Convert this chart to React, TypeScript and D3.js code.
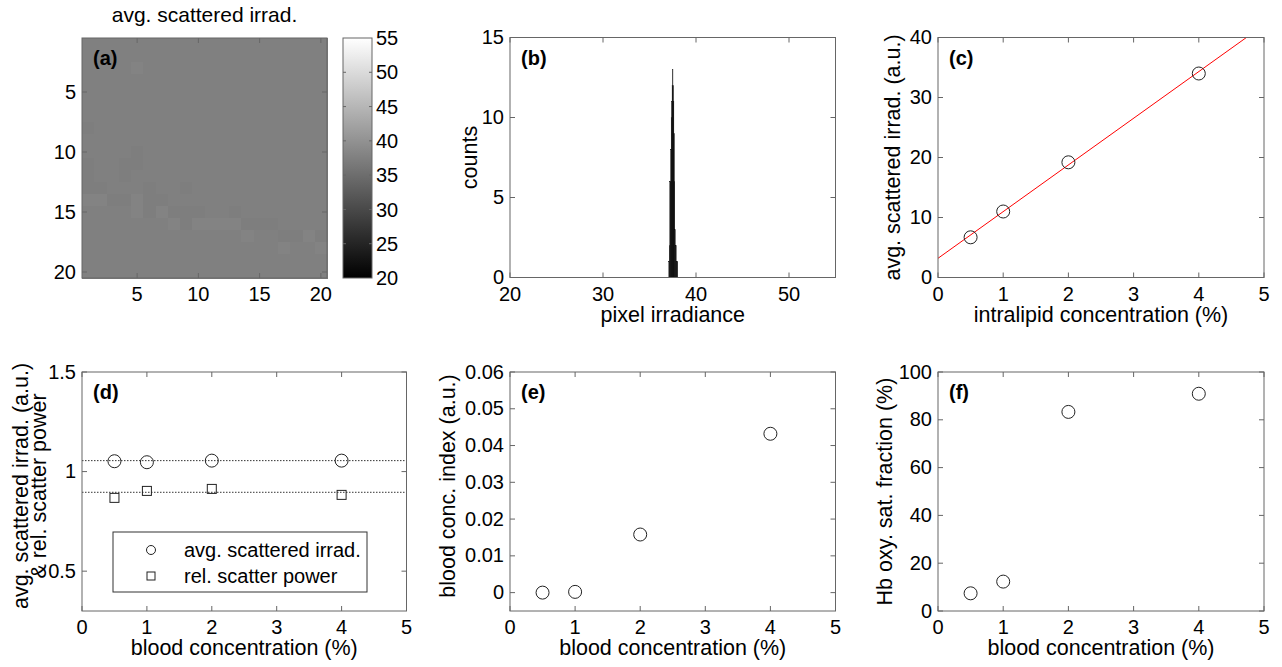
import React from 'react';
import * as d3 from 'd3';

// ---------- DATA ----------
// (a) 20x20 map of average scattered irradiance; '.' base, 'd' darker, 'l' lighter
const heatRows: string[] = [
  '....................',
  '....................',
  '....l...............',
  '....................',
  '....................',
  '....................',
  '....................',
  'd...................',
  '....................',
  '....d...............',
  'd..dd...............',
  'd..d................',
  'dd...d..d...........',
  'llddldd.............',
  '....ldlddd..d.......',
  '.......ldllllddd....',
  '.............l..ddld',
  '................l..l',
  '....................',
  '....................',
];
const heatLevels: Record<string, number> = { '.': 37.6, d: 37.25, l: 38.0 };
const colorbarTicks = [20, 25, 30, 35, 40, 45, 50, 55];
const heatTicks = [5, 10, 15, 20];

// (b) histogram of pixel irradiance
const histCenters = [37.1, 37.15, 37.2, 37.25, 37.3, 37.35, 37.4, 37.45, 37.5, 37.55, 37.6, 37.65, 37.7, 37.75, 37.8, 37.85, 37.9, 37.95, 38.0];
const histCounts = [1, 2, 6, 6, 8, 10, 11, 12, 13, 12, 11, 9, 6, 3, 2, 2, 1, 1, 1];
const histXTicks = [20, 30, 40, 50];
const histYTicks = [0, 5, 10, 15];

// (c) intralipid
const intralipidConc = [0.5, 1, 2, 4];
const intralipidIrrad = [6.7, 11.0, 19.2, 34.0];
const fitIntercept = 3.2;
const fitSlope = 7.78;
const cYTicks = [0, 10, 20, 30, 40];

// (d)(e)(f) blood
const bloodConc = [0.5, 1, 2, 4];
const dIrrad = [1.052, 1.047, 1.055, 1.055];
const dScatterPower = [0.868, 0.903, 0.913, 0.883];
const dIrradMean = 1.055;
const dPowerMean = 0.896;
const dYTicks = [0.5, 1, 1.5];
const eIndex = [0.0, 0.0002, 0.0158, 0.0432];
const eYTicks = [0, 0.01, 0.02, 0.03, 0.04, 0.05, 0.06];
const fSat = [7.4, 12.3, 83.3, 90.9];
const fYTicks = [0, 20, 40, 60, 80, 100];
const concTicks = [0, 1, 2, 3, 4, 5];

// ---------- LAYOUT ----------
const FONT = '"Liberation Sans", Arial, sans-serif';
const FS = 20;
const LFS = 21.5;
const TICK = 5;
const AXC = '#666';

type Box = { l: number; r: number; t: number; b: number };
const boxA: Box = { l: 82, r: 327, t: 38, b: 278 };
const boxB: Box = { l: 510, r: 835.5, t: 37.5, b: 277.5 };
const boxC: Box = { l: 938, r: 1264, t: 37.5, b: 277.5 };
const boxD: Box = { l: 82, r: 406.5, t: 372, b: 611 };
const boxE: Box = { l: 510, r: 835.5, t: 372, b: 611 };
const boxF: Box = { l: 938, r: 1264, t: 372, b: 611 };

function Frame(props: {
  box: Box;
  x: (v: number) => number;
  y: (v: number) => number;
  xTicks: number[];
  yTicks: number[];
  xFmt?: (v: number) => string;
  yFmt?: (v: number) => string;
  xLabel?: string;
  yLabel?: string[];
  yLabelX?: number;
  yLabelCY?: number;
  panel?: string;
}) {
  const { box, x, y, xTicks, yTicks } = props;
  const xf = props.xFmt || ((v: number) => String(v));
  const yf = props.yFmt || ((v: number) => String(v));
  const cy = props.yLabelCY !== undefined ? props.yLabelCY : (box.t + box.b) / 2;
  const cx = (box.l + box.r) / 2;
  return (
    <g fontFamily={FONT} fontSize={FS} fill="#000">
      <rect x={box.l} y={box.t} width={box.r - box.l} height={box.b - box.t} fill="none" stroke={AXC} strokeWidth={1} />
      {xTicks.map((v, i) => (
        <g key={'xt' + i}>
          <line x1={x(v)} x2={x(v)} y1={box.b} y2={box.b - TICK} stroke={AXC} />
          <line x1={x(v)} x2={x(v)} y1={box.t} y2={box.t + TICK} stroke={AXC} />
          <text x={x(v)} y={box.b + 23} textAnchor="middle">{xf(v)}</text>
        </g>
      ))}
      {yTicks.map((v, i) => (
        <g key={'yt' + i}>
          <line x1={box.l} x2={box.l + TICK} y1={y(v)} y2={y(v)} stroke={AXC} />
          <line x1={box.r} x2={box.r - TICK} y1={y(v)} y2={y(v)} stroke={AXC} />
          <text x={box.l - 6} y={y(v)} dy="0.33em" textAnchor="end">{yf(v)}</text>
        </g>
      ))}
      {props.xLabel && (
        <text x={cx} y={box.b + 44} textAnchor="middle" fontSize={LFS}>{props.xLabel}</text>
      )}
      {props.yLabel && props.yLabel.map((s, i) => (
        <text key={'yl' + i} fontSize={LFS}
          transform={`translate(${(props.yLabelX || 0) + i * 18},${cy}) rotate(-90)`}
          textAnchor="middle">{s}</text>
      ))}
      {props.panel && (
        <text x={box.l + 11} y={box.t + 27} fontWeight="bold">{props.panel}</text>
      )}
    </g>
  );
}

export default function App() {
  // (a)
  const xa = d3.scaleLinear().domain([0.5, 20.5]).range([boxA.l, boxA.r]);
  const ya = d3.scaleLinear().domain([0.5, 20.5]).range([boxA.t, boxA.b]);
  const gray = d3.scaleLinear<string>().domain([20, 55]).range(['#000000', '#ffffff']).clamp(true);
  const cbar = { l: 343, r: 372, t: 38, b: 278 };
  const ycb = d3.scaleLinear().domain([20, 55]).range([cbar.b, cbar.t]);

  // (b)
  const xb = d3.scaleLinear().domain([20, 55]).range([boxB.l, boxB.r]);
  const yb = d3.scaleLinear().domain([0, 15]).range([boxB.b, boxB.t]);
  const binW = histCenters[1] - histCenters[0];

  // (c)
  const xc = d3.scaleLinear().domain([0, 5]).range([boxC.l, boxC.r]);
  const yc = d3.scaleLinear().domain([0, 40]).range([boxC.b, boxC.t]);
  const fitLine = d3.line<number>().x((v) => xc(v)).y((v) => yc(fitIntercept + fitSlope * v));

  // (d)
  const xd = d3.scaleLinear().domain([0, 5]).range([boxD.l, boxD.r]);
  const yd = d3.scaleLinear().domain([0.3, 1.5]).range([boxD.b, boxD.t]);
  // (e)
  const xe = d3.scaleLinear().domain([0, 5]).range([boxE.l, boxE.r]);
  const ye = d3.scaleLinear().domain([-0.005, 0.06]).range([boxE.b, boxE.t]);
  // (f)
  const xfS = d3.scaleLinear().domain([0, 5]).range([boxF.l, boxF.r]);
  const yfS = d3.scaleLinear().domain([0, 100]).range([boxF.b, boxF.t]);

  const R = 6.5;
  const MK = '#222';

  return (
    <svg width={1282} height={667} style={{ position: 'absolute', left: 0, top: 0, background: '#fff' }}
      fontFamily={FONT}>
      <defs>
        <linearGradient id="cbg" x1="0" y1="1" x2="0" y2="0">
          <stop offset="0" stopColor="#000" />
          <stop offset="1" stopColor="#fff" />
        </linearGradient>
        <clipPath id="clipC">
          <rect x={boxC.l} y={boxC.t} width={boxC.r - boxC.l} height={boxC.b - boxC.t} />
        </clipPath>
      </defs>

      {/* (a) heatmap */}
      <text x={(boxA.l + boxA.r) / 2} y={22} textAnchor="middle" fontSize={21}>avg. scattered irrad.</text>
      <g shapeRendering="crispEdges">
        {heatRows.map((row, ri) =>
          row.split('').map((ch, ci) => (
            <rect key={ri + '-' + ci}
              x={xa(ci + 0.5)} y={ya(ri + 0.5)}
              width={xa(ci + 1.5) - xa(ci + 0.5) + 0.6}
              height={ya(ri + 1.5) - ya(ri + 0.5) + 0.6}
              fill={gray(heatLevels[ch])} />
          ))
        )}
      </g>
      <Frame box={boxA} x={xa} y={ya} xTicks={heatTicks} yTicks={heatTicks} panel="(a)" />
      {/* colorbar */}
      <rect x={cbar.l} y={cbar.t} width={cbar.r - cbar.l} height={cbar.b - cbar.t} fill="url(#cbg)" stroke={AXC} />
      {colorbarTicks.map((v) => (
        <g key={'cb' + v}>
          {v > 20 && v < 55 && <line x1={cbar.r} x2={cbar.r - 3} y1={ycb(v)} y2={ycb(v)} stroke={AXC} />}
          {v > 20 && v < 55 && <line x1={cbar.l} x2={cbar.l + 3} y1={ycb(v)} y2={ycb(v)} stroke={AXC} />}
          <text x={cbar.r + 4} y={ycb(v)} dy="0.36em" fontSize={FS}>{v}</text>
        </g>
      ))}

      {/* (b) histogram */}
      {histCenters.map((c, i) => (
        <rect key={'h' + i} x={xb(c - binW / 2)} y={yb(histCounts[i])}
          width={xb(c + binW / 2) - xb(c - binW / 2)} height={yb(0) - yb(histCounts[i])}
          fill="#000" stroke="#000" strokeWidth={0.3} />
      ))}
      <Frame box={boxB} x={xb} y={yb} xTicks={histXTicks} yTicks={histYTicks}
        xLabel="pixel irradiance" yLabel={['counts']} yLabelX={boxB.l - 33} panel="(b)" />

      {/* (c) */}
      <path d={fitLine([0, 5]) || ''} fill="none" stroke="#ff0000" strokeWidth={1} clipPath="url(#clipC)" />
      {intralipidConc.map((c, i) => (
        <circle key={'c' + i} cx={xc(c)} cy={yc(intralipidIrrad[i])} r={R} fill="none" stroke={MK} strokeWidth={1} />
      ))}
      <Frame box={boxC} x={xc} y={yc} xTicks={concTicks} yTicks={cYTicks}
        xLabel="intralipid concentration (%)" yLabel={['avg. scattered irrad. (a.u.)']} yLabelX={boxC.l - 38} panel="(c)" />

      {/* (d) */}
      <line x1={xd(0)} x2={xd(5)} y1={yd(dIrradMean)} y2={yd(dIrradMean)} stroke="#333" strokeDasharray="1.5,1.5" />
      <line x1={xd(0)} x2={xd(5)} y1={yd(dPowerMean)} y2={yd(dPowerMean)} stroke="#333" strokeDasharray="1.5,1.5" />
      {bloodConc.map((c, i) => (
        <circle key={'d1' + i} cx={xd(c)} cy={yd(dIrrad[i])} r={R} fill="none" stroke={MK} strokeWidth={1} />
      ))}
      {bloodConc.map((c, i) => (
        <rect key={'d2' + i} x={xd(c) - 4.5} y={yd(dScatterPower[i]) - 4.5} width={9} height={9} fill="none" stroke={MK} strokeWidth={1} />
      ))}
      <Frame box={boxD} x={xd} y={yd} xTicks={concTicks} yTicks={dYTicks}
        xLabel="blood concentration (%)" yLabel={['avg. scattered irrad. (a.u.)', '& rel. scatter power']}
        yLabelX={boxD.l - 54} yLabelCY={486} panel="(d)" />
      {/* legend */}
      <g>
        <rect x={113} y={532} width={254} height={60} fill="#fff" stroke="#333" strokeWidth={1} />
        <circle cx={151} cy={550} r={4.5} fill="none" stroke={MK} />
        <text x={184} y={557} fontSize={FS}>avg. scattered irrad.</text>
        <rect x={147} y={572} width={8} height={8} fill="none" stroke={MK} />
        <text x={184} y={583} fontSize={FS}>rel. scatter power</text>
      </g>

      {/* (e) */}
      {bloodConc.map((c, i) => (
        <circle key={'e' + i} cx={xe(c)} cy={ye(eIndex[i])} r={R} fill="none" stroke={MK} strokeWidth={1} />
      ))}
      <Frame box={boxE} x={xe} y={ye} xTicks={concTicks} yTicks={eYTicks}
        xLabel="blood concentration (%)" yLabel={['blood conc. index (a.u.)']} yLabelX={boxE.l - 55} yLabelCY={486} panel="(e)" />

      {/* (f) */}
      {bloodConc.map((c, i) => (
        <circle key={'f' + i} cx={xfS(c)} cy={yfS(fSat[i])} r={R} fill="none" stroke={MK} strokeWidth={1} />
      ))}
      <Frame box={boxF} x={xfS} y={yfS} xTicks={concTicks} yTicks={fYTicks}
        xLabel="blood concentration (%)" yLabel={['Hb oxy. sat. fraction (%)']} yLabelX={boxF.l - 46} panel="(f)" />
    </svg>
  );
}
